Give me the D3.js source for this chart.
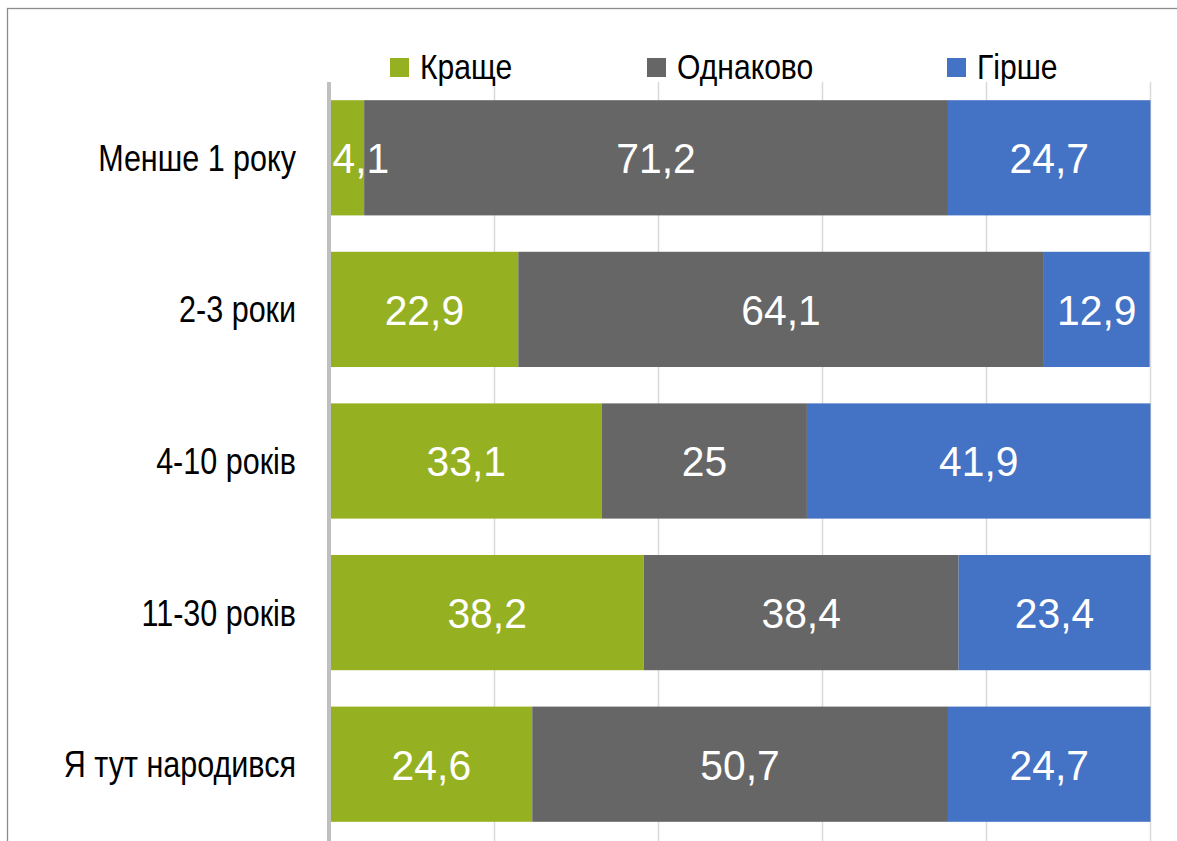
<!DOCTYPE html>
<html>
<head>
<meta charset="utf-8">
<script src="https://cdn.jsdelivr.net/npm/d3@7"></script>
<style>
  html, body { margin: 0; padding: 0; background: #fff; }
  svg { display: block; }
  text { font-family: "Liberation Sans", Arial, sans-serif; }
</style>
</head>
<body>
<svg id="chart" width="1177" height="841"></svg>
<script>
// Categories (length of residence) and the three answer shares, in percent
const categories = ["Менше 1 року", "2-3 роки", "4-10 років", "11-30 років", "Я тут народився"];
const seriesNames = ["Краще", "Однаково", "Гірше"];
const better = [4.1, 22.9, 33.1, 38.2, 24.6];
const same   = [71.2, 64.1, 25, 38.4, 50.7];
const worse  = [24.7, 12.9, 41.9, 23.4, 24.7];
const xTicks = [0, 20, 40, 60, 80, 100];
const colors = ["#95b122", "#666666", "#4472c4"];

const svg = d3.select("#chart");
const W = 1177, H = 841;
const plot = { left: 330.5, right: 1150.5, top: 82, bottom: 840 };

// Outer chart frame (runs past the right and bottom edges)
svg.append("rect")
  .attr("x", 7.5).attr("y", 8.5)
  .attr("width", 1300).attr("height", 1000)
  .attr("fill", "none").attr("stroke", "#8c8c8c").attr("stroke-width", 1.3);

const x = d3.scaleLinear().domain([0, 100]).range([plot.left, plot.right]);
const y = d3.scaleBand().domain(categories).range([plot.top, plot.bottom]).paddingInner(0.24).paddingOuter(0.12);

// Vertical gridlines
svg.append("g")
  .selectAll("line")
  .data(xTicks.slice(1))
  .join("line")
  .attr("x1", d => x(d)).attr("x2", d => x(d))
  .attr("y1", plot.top).attr("y2", H)
  .attr("stroke", "#d9d9d9").attr("stroke-width", 1.5);

// Stacked data
const rows = categories.map((c, i) => ({ cat: c, v: [better[i], same[i], worse[i]] }));
const segs = [];
rows.forEach(r => {
  let acc = 0;
  r.v.forEach((v, k) => {
    segs.push({ cat: r.cat, k, v, x0: acc, x1: acc + v });
    acc += v;
  });
});

// Bars
svg.append("g")
  .selectAll("rect")
  .data(segs)
  .join("rect")
  .attr("x", d => x(d.x0))
  .attr("y", d => y(d.cat))
  .attr("width", d => x(d.x1) - x(d.x0))
  .attr("height", y.bandwidth())
  .attr("fill", d => colors[d.k]);

// Category axis line
svg.append("line")
  .attr("x1", 329).attr("x2", 329)
  .attr("y1", plot.top).attr("y2", H)
  .attr("stroke", "#bfbfbf").attr("stroke-width", 4);

// Value labels inside segments
const labelSize = 43, labelSx = 0.95;
const lbl = svg.append("g");
segs.forEach(d => {
  const txt = String(d.v).replace(".", ",");
  const t = lbl.append("text")
    .attr("fill", "#fff")
    .attr("font-size", labelSize)
    .attr("text-anchor", "middle")
    .text(txt);
  const w = t.node().getComputedTextLength() * labelSx;
  let cx = (x(d.x0) + x(d.x1)) / 2;
  cx = Math.max(cx, plot.left + 2 + w / 2);
  const cy = y(d.cat) + y.bandwidth() / 2 + labelSize * 0.36;
  t.attr("transform", `translate(${cx},${cy}) scale(${labelSx},1)`);
});

// Category labels
const catSize = 37, catSx = 0.825;
svg.append("g")
  .selectAll("text")
  .data(categories)
  .join("text")
  .attr("font-size", catSize)
  .attr("fill", "#000")
  .attr("text-anchor", "end")
  .attr("transform", d => `translate(296,${y(d) + y.bandwidth() / 2 + catSize * 0.35}) scale(${catSx},1)`)
  .text(d => d);

// Legend
const legX = [390, 647, 947];
const legSize = 35, legSx = 0.86;
const leg = svg.append("g");
seriesNames.forEach((n, i) => {
  leg.append("rect")
    .attr("x", legX[i]).attr("y", 58)
    .attr("width", 19).attr("height", 19)
    .attr("fill", colors[i]);
  leg.append("text")
    .attr("font-size", legSize)
    .attr("fill", "#000")
    .attr("transform", `translate(${legX[i] + 30},79) scale(${legSx},1)`)
    .text(n);
});
</script>
</body>
</html>
